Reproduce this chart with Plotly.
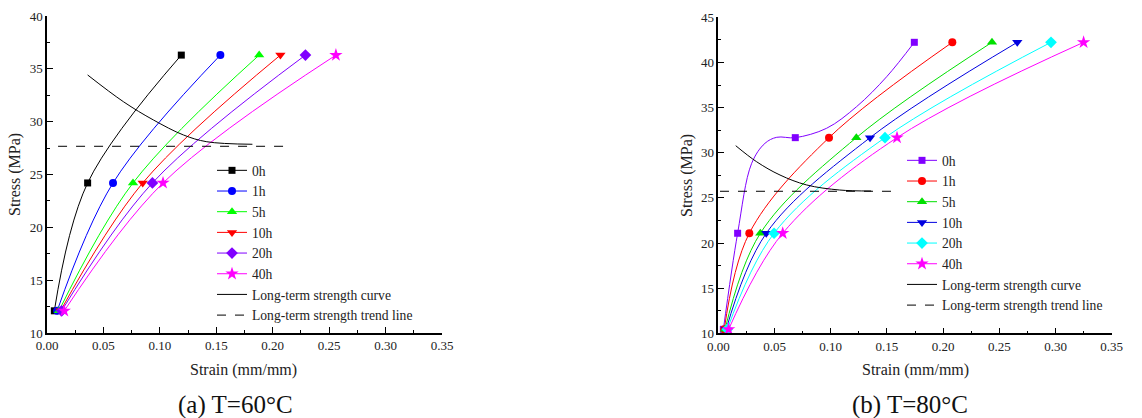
import plotly.graph_objects as go

FONT = "Liberation Serif"

# ---------------- data: panel (a) T=60°C ----------------
series_names = ["0h", "1h", "5h", "10h", "20h", "40h"]
stress_a = [12.1, 24.2, 36.3]
strain_a_0h = [0.0065, 0.036, 0.119]
strain_a_1h = [0.009, 0.0585, 0.1536]
strain_a_5h = [0.0106, 0.0762, 0.188]
strain_a_10h = [0.012, 0.0848, 0.2068]
strain_a_20h = [0.013, 0.0934, 0.229]
strain_a_40h = [0.0153, 0.1028, 0.256]
lts_curve_a_x = [0.036, 0.0677, 0.0943, 0.1209, 0.1416, 0.182]
lts_curve_a_y = [34.42, 31.89, 30.16, 28.74, 28.10, 27.86]
lts_trend_a_x = [0.0098, 0.211]
lts_trend_a_y = [27.67, 27.67]

# ---------------- data: panel (b) T=80°C ----------------
stress_b = [10.44, 21.08, 31.67, 42.23]
strain_b_0h = [0.0045, 0.0172, 0.0685, 0.1744]
strain_b_1h = [0.0053, 0.0276, 0.0985, 0.2082]
strain_b_5h = [0.006, 0.0374, 0.1228, 0.2435]
strain_b_10h = [0.007, 0.0427, 0.135, 0.266]
strain_b_20h = [0.008, 0.0496, 0.1483, 0.296]
strain_b_40h = [0.0092, 0.0573, 0.159, 0.325]
# 0h curve of panel (b) read more densely (plateau near 31.7 MPa)
curve_b_0h_x = [0.0045, 0.0172, 0.0297, 0.0415, 0.052, 0.0685, 0.0964, 0.123, 0.1498, 0.1744]
curve_b_0h_y = [10.44, 21.08, 28.83, 31.04, 31.71, 31.67, 32.71, 35.10, 38.42, 42.23]
lts_curve_b_x = [0.0155, 0.0341, 0.0549, 0.0786, 0.108, 0.136]
lts_curve_b_y = [30.78, 29.0, 27.53, 26.43, 25.87, 25.76]
lts_trend_b_x = [0.0015, 0.161]
lts_trend_b_y = [25.73, 25.73]

symbols = ["square", "circle", "triangle-up", "triangle-down", "diamond", "star"]
colors_a = ["#000000", "#0000FF", "#00FF00", "#FF0000", "#8000FF", "#FF00FF"]
colors_b = ["#8000FF", "#FF0000", "#00E000", "#0000E0", "#00FFFF", "#FF00FF"]
msizes = [7, 8, 9, 9, 9, 10]

strains_a = [strain_a_0h, strain_a_1h, strain_a_5h, strain_a_10h, strain_a_20h, strain_a_40h]
strains_b = [strain_b_0h, strain_b_1h, strain_b_5h, strain_b_10h, strain_b_20h, strain_b_40h]
curves_b = [(curve_b_0h_x, curve_b_0h_y)] + [(s, stress_b) for s in strains_b[1:]]
curves_a = [(s, stress_a) for s in strains_a]

fig = go.Figure()


def add_series(cx, cy, mx, my, name, color, symbol, size, xa, ya, leg):
    grp = f"{leg}-{name}"
    fig.add_trace(go.Scatter(
        x=cx, y=cy, mode="lines", showlegend=False, legendgroup=grp,
        line=dict(color=color, width=1, shape="spline", smoothing=1.0),
        xaxis=xa, yaxis=ya, hoverinfo="skip"))
    fig.add_trace(go.Scatter(
        x=mx, y=my, mode="markers", showlegend=False, legendgroup=grp,
        marker=dict(symbol=symbol, size=size, color=color),
        xaxis=xa, yaxis=ya, cliponaxis=False))
    fig.add_trace(go.Scatter(
        x=[None], y=[None], mode="lines+markers", name=name, legendgroup=grp,
        line=dict(color=color, width=1), marker=dict(symbol=symbol, size=size, color=color),
        xaxis=xa, yaxis=ya, legend=leg))


for i, name in enumerate(series_names):
    add_series(curves_a[i][0], curves_a[i][1], strains_a[i], stress_a, name,
               colors_a[i], symbols[i], msizes[i], "x", "y", "legend")
fig.add_trace(go.Scatter(
    x=lts_curve_a_x, y=lts_curve_a_y, name="Long-term strength curve", mode="lines",
    line=dict(color="black", width=1, shape="spline"), xaxis="x", yaxis="y", legend="legend"))
fig.add_trace(go.Scatter(
    x=lts_trend_a_x, y=lts_trend_a_y, name="Long-term strength trend line", mode="lines",
    line=dict(color="black", width=1, dash="dash"), xaxis="x", yaxis="y", legend="legend"))

for i, name in enumerate(series_names):
    add_series(curves_b[i][0], curves_b[i][1], strains_b[i], stress_b, name,
               colors_b[i], symbols[i], msizes[i], "x2", "y2", "legend2")
fig.add_trace(go.Scatter(
    x=lts_curve_b_x, y=lts_curve_b_y, name="Long-term strength curve", mode="lines",
    line=dict(color="black", width=1, shape="spline"), xaxis="x2", yaxis="y2", legend="legend2"))
fig.add_trace(go.Scatter(
    x=lts_trend_b_x, y=lts_trend_b_y, name="Long-term strength trend line", mode="lines",
    line=dict(color="black", width=1, dash="dash"), xaxis="x2", yaxis="y2", legend="legend2"))

axis_common = dict(
    showline=True, linecolor="black", linewidth=1.5, mirror=False, showgrid=False, zeroline=False,
    ticks="inside", ticklen=6, tickwidth=1, tickcolor="black", automargin=False,
    tickfont=dict(family=FONT, size=13, color="#222"),
)
xcommon = dict(axis_common, range=[0, 0.35], dtick=0.05, tick0=0, tickformat=".2f",
               minor=dict(ticks="inside", ticklen=3, dtick=0.025, tick0=0, tickcolor="black"))

W, H = 1142, 418


def px(xp):
    return xp / W


def py(yp):
    return 1 - yp / H


ann_font = dict(family=FONT, size=16, color="#222")
cap_font = dict(family=FONT, size=25, color="#111")
leg_font = dict(family=FONT, size=13.6, color="#222")

fig.update_layout(
    width=W, height=H,
    margin=dict(l=0, r=0, t=0, b=0, autoexpand=False),
    paper_bgcolor="white", plot_bgcolor="white",
    font=dict(family=FONT, color="#222"),
    xaxis=dict(xcommon, domain=[px(47), px(442)], anchor="y"),
    yaxis=dict(axis_common, range=[10, 40], dtick=5, domain=[py(333), py(16)], anchor="x",
               minor=dict(ticks="inside", ticklen=3, dtick=2.5, tick0=0, tickcolor="black")),
    xaxis2=dict(xcommon, domain=[px(718.3), px(1111.7)], anchor="y2"),
    yaxis2=dict(axis_common, range=[10, 45], dtick=5, domain=[py(333.3), py(17.3)], anchor="x2",
                minor=dict(ticks="inside", ticklen=3, dtick=2.5, tick0=0, tickcolor="black")),
    legend=dict(x=px(212), y=py(155), xanchor="left", yanchor="top",
                font=leg_font, bgcolor="rgba(0,0,0,0)", tracegroupgap=0, itemwidth=30),
    legend2=dict(x=px(902), y=py(145), xanchor="left", yanchor="top",
                 font=leg_font, bgcolor="rgba(0,0,0,0)", tracegroupgap=0, itemwidth=30),
    annotations=[
        dict(text="Strain (mm/mm)", x=px(243), y=py(370), xref="paper", yref="paper",
             xanchor="center", yanchor="middle", showarrow=False, font=ann_font),
        dict(text="(a) T=60°C", x=px(235), y=py(405), xref="paper", yref="paper",
             xanchor="center", yanchor="middle", showarrow=False, font=cap_font),
        dict(text="Stress (MPa)", x=px(15), y=py(175), xref="paper", yref="paper",
             xanchor="center", yanchor="middle", showarrow=False, textangle=-90, font=ann_font),
        dict(text="Strain (mm/mm)", x=px(915), y=py(370), xref="paper", yref="paper",
             xanchor="center", yanchor="middle", showarrow=False, font=ann_font),
        dict(text="(b) T=80°C", x=px(910), y=py(405), xref="paper", yref="paper",
             xanchor="center", yanchor="middle", showarrow=False, font=cap_font),
        dict(text="Stress (MPa)", x=px(687), y=py(176), xref="paper", yref="paper",
             xanchor="center", yanchor="middle", showarrow=False, textangle=-90, font=ann_font),
    ],
)

fig.write_html("out.html")
